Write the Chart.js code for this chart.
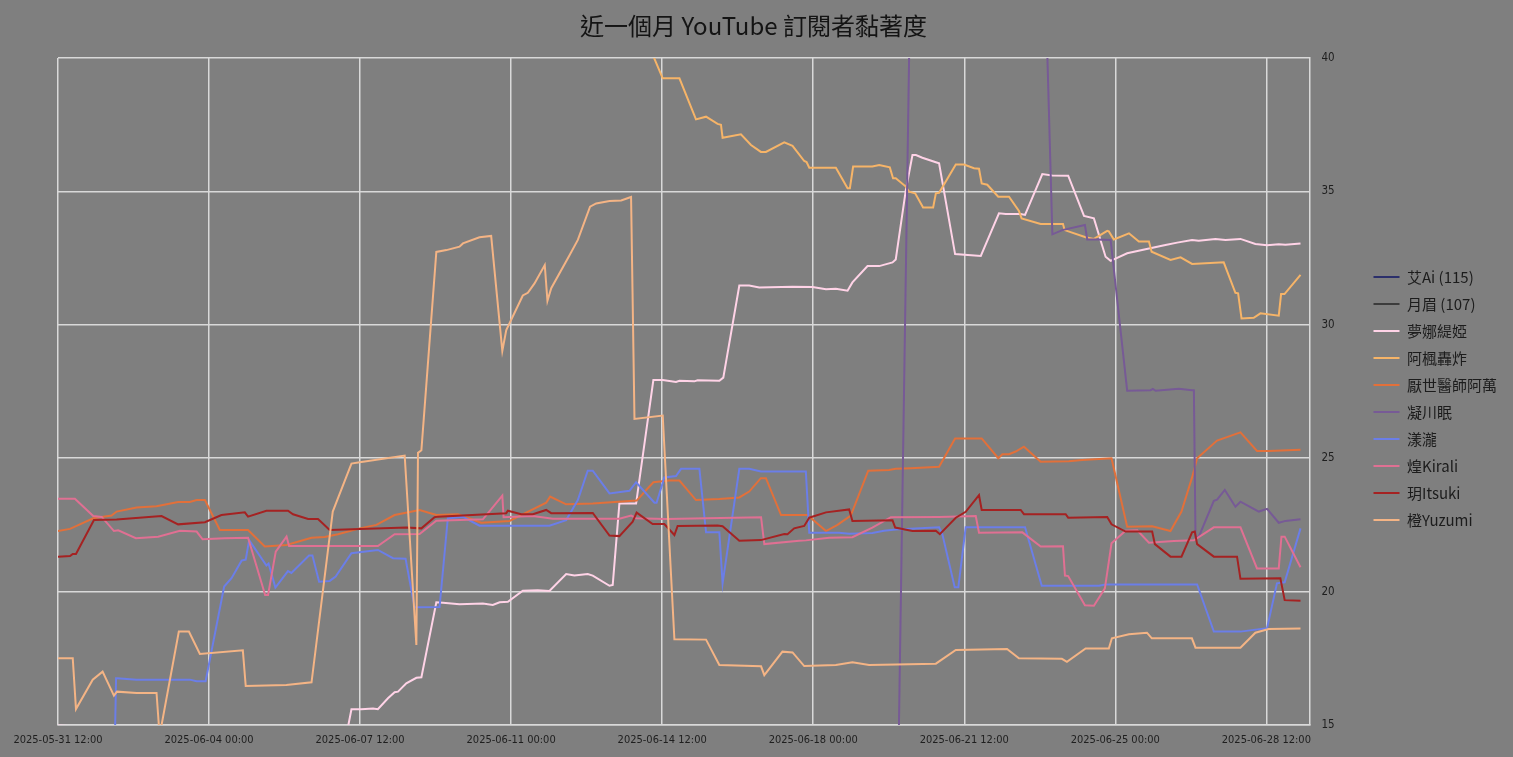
<!DOCTYPE html>
<html><head><meta charset="utf-8">
<script src="https://cdn.jsdelivr.net/npm/chart.js@4/dist/chart.umd.min.js"></script>
<style>
html,body{margin:0;padding:0;background:#7f7f7f;overflow:hidden;width:1513px;height:757px;}
#wrap{width:1513px;height:757px;}
canvas{display:block;}
</style></head><body>
<div id="wrap"><canvas id="c" width="1513" height="757"></canvas></div>
<script>
// x values are hours after 2025-05-31 12:00
const xTickHours = [0, 84, 168, 252, 336, 420, 504, 588, 672];
const xTickLabels = ['2025-05-31 12:00','2025-06-04 00:00','2025-06-07 12:00','2025-06-11 00:00','2025-06-14 12:00','2025-06-18 00:00','2025-06-21 12:00','2025-06-25 00:00','2025-06-28 12:00'];
const seriesNames = ['艾Ai (115)','月眉 (107)','夢娜緹婭','阿楓轟炸','厭世醫師阿萬','凝川眠','漾瀧','煌Kirali','玥Itsuki','橙Yuzumi'];
const seriesColors = ['#2b2f6b','#3c3c3c','#ffd3e7','#f6b468','#e2703a','#775a96','#6b7ee8','#e07093','#a52222','#f4b485'];

const aiHours = [0, 691];
const aiValues = [115, 115];
const yuemeiHours = [0, 691];
const yuemeiValues = [107, 107];

const mengnaHours = [0,10,12,158,163.2,168.7,175.2,177.9,183.5,187.2,189.1,193.7,199.3,202.1,210.4,214.1,223.3,236.3,241.8,245.6,250.2,258.5,266.8,273.3,282.6,287.2,294.6,297.4,306.7,308.5,312.2,321.5,331.1,336.3,343.7,345.6,353.9,355.7,367.8,370,378.9,384.4,390,408.5,419.6,427.1,432.6,439.1,441.8,450.2,456.7,464.1,465.9,471.5,475.2,477.1,480.7,488.2,490,498.9,513.2,523.3,527.1,535.4,537.8,547.4,552.9,561.8,570.6,576.1,582.6,585.4,587.2,594.6,604.8,615.9,622.4,630.7,634.4,643.7,649.3,657.6,665.9,672.4,678.9,682.6,691];
const mengnaValues = [14.98,14.95,13.8,13.8,15.59,15.59,15.62,15.59,16.0,16.23,16.25,16.56,16.77,16.79,19.6,19.58,19.53,19.55,19.5,19.6,19.62,20.03,20.05,20.02,20.66,20.6,20.66,20.6,20.22,20.25,23.3,23.3,27.93,27.93,27.86,27.9,27.88,27.92,27.9,28.02,31.47,31.47,31.4,31.43,31.42,31.33,31.35,31.28,31.59,32.2,32.2,32.34,32.45,35.05,36.36,36.36,36.26,36.09,36.05,32.65,32.58,34.18,34.15,34.15,34.12,35.65,35.6,35.59,34.08,33.99,32.55,32.4,32.45,32.68,32.83,32.99,33.08,33.18,33.15,33.22,33.18,33.22,33.03,32.98,33.02,33.0,33.05];

const afengHours = [0,320,329,336.3,345.6,354.8,360.4,366.8,368.7,369.6,379.8,385.4,390.9,393.7,403.9,408.5,415,416.3,417.8,432.6,439.1,440.4,442.2,452.9,456.7,462.6,464.4,465.9,471.5,473.3,476.7,481.1,486.7,488.2,490,499.3,503.9,509.4,512.2,513.7,516.8,522.9,528.9,534.4,535.9,546.5,558.9,559.8,571.5,576.1,583.5,584.4,587.2,595.6,601.1,606.7,608.2,618.7,624.3,630.7,648.3,654.8,656.3,658.2,665,668.7,678.9,680.2,682.1,691];
const afengValues = [43,42,40.4,39.24,39.24,37.7,37.8,37.53,37.5,37.01,37.14,36.74,36.48,36.48,36.84,36.71,36.14,36.1,35.89,35.89,35.12,35.12,35.93,35.93,35.99,35.9,35.49,35.49,35.18,34.99,34.93,34.4,34.4,34.93,34.95,36.01,36.01,35.87,35.85,35.3,35.25,34.8,34.8,34.27,33.99,33.78,33.78,33.55,33.28,33.22,33.52,33.5,33.2,33.43,33.12,33.12,32.74,32.43,32.53,32.28,32.34,31.2,31.18,30.24,30.26,30.43,30.34,31.15,31.15,31.87];

const awanHours = [0,6.7,19.6,29.8,32.6,43.7,54.8,66.8,73.3,77.1,81.7,90,105.7,115,127.1,141,148.3,155.7,167.8,177.1,187.2,201.1,210.4,222.4,235.4,251.1,271.5,273.7,282.6,297.4,321.8,331.1,340,345.6,354.8,367.8,378.9,384.4,390.9,393.7,402.1,416.8,427.1,433.5,440.9,450.6,462.2,465.9,474.3,490,498.9,513.7,522.9,525.2,528.9,532.6,537.2,546.5,562.2,569.6,585.9,594.6,608.5,618.7,624.8,630.7,633.5,644.6,657.6,666.8,673.3,691];
const awanValues = [22.27,22.35,22.75,22.85,23.0,23.15,23.2,23.36,23.36,23.43,23.43,22.31,22.31,21.69,21.75,22.02,22.05,22.15,22.37,22.5,22.87,23.06,22.87,22.9,22.58,22.65,23.33,23.56,23.27,23.3,23.41,24.1,24.16,24.16,23.43,23.47,23.53,23.75,24.25,24.25,22.87,22.87,22.27,22.5,22.85,24.53,24.56,24.6,24.62,24.68,25.74,25.74,25.0,25.15,25.15,25.25,25.43,24.87,24.89,24.93,25.0,22.43,22.45,22.27,23.0,24.28,25.0,25.66,25.97,25.27,25.27,25.32];

const ningchuanHours = [0,467,474,510,549.5,553,558.5,571.1,572.4,577.9,585.4,594.6,607.6,608.9,610.4,623.3,630.7,631.7,632.6,634.4,642.8,644.6,648.9,654.8,657.6,667.8,672.4,678.9,682.6,691];
const ningchuanValues = [11,12,43,46,41.8,33.39,33.55,33.74,33.2,33.2,33.18,27.53,27.55,27.6,27.53,27.6,27.55,27.55,22.06,22.05,23.4,23.45,23.81,23.18,23.37,23.0,23.1,22.58,22.65,22.71];

const yanglongHours = [0,31.5,32.3,32.9,43.7,73.3,77.1,82.1,92.4,96.5,102.1,104.4,106.3,115.9,117.1,120.9,127.9,129.8,139.6,141.5,145.2,151.1,154.4,163.2,177.9,186.3,193.3,198.3,212.2,216.8,225.2,234.4,273.3,282.6,289.1,294.6,297.4,306.7,317.8,321.5,331.7,332.9,337.2,343.7,346.5,356.7,360.4,367.8,369.6,378.9,384.4,390.9,415.9,417.8,434.4,440,452.9,459.4,465.9,490,491.8,498.7,500.7,504.8,537.8,547.1,578.9,582.6,633.5,642.8,657.6,672.4,677.9,682.2,691];
const yanglongValues = [14.0,14.0,16.75,16.75,16.7,16.7,16.64,16.64,20.19,20.5,21.16,21.2,21.93,20.98,21.05,20.15,20.77,20.7,21.35,21.35,20.37,20.4,20.56,21.44,21.56,21.25,21.23,19.41,19.42,22.75,22.8,22.47,22.47,22.68,23.43,24.53,24.53,23.68,23.78,24.1,23.33,23.33,24.28,24.33,24.6,24.6,22.22,22.22,20.31,24.6,24.6,24.5,24.5,22.21,22.21,22.17,22.2,22.28,22.33,22.41,22.16,20.16,20.16,22.41,22.41,20.22,20.22,20.27,20.27,18.5,18.5,18.63,20.31,20.35,22.37];

const kiraliHours = [0,9.4,19.6,24.3,31.1,33.5,43.3,55.7,67.8,77.1,80.4,92.8,105.7,115.2,116.8,121.1,127.1,128.5,154.8,177.9,187.2,201.1,210.4,236.3,247.1,247.8,264.1,275.2,312.2,318.7,321.5,338.2,391,392.8,412.2,415.9,428.9,441.8,452.9,463.2,490,510.4,512.2,536.3,546.5,558.9,560,561.8,571.1,576.1,582.2,585.9,593.7,600.2,606.7,620.6,631.7,642.8,657.6,666.8,678.9,680.4,682.2,691];
const kiraliValues = [23.48,23.48,22.83,22.8,22.27,22.3,22.0,22.06,22.28,22.25,21.96,22.0,22.02,19.87,19.87,21.5,22.06,21.71,21.71,21.71,22.15,22.16,22.66,22.71,23.6,22.79,22.83,22.73,22.73,22.85,22.75,22.72,22.79,21.78,21.91,21.92,22.02,22.04,22.4,22.79,22.8,22.83,22.21,22.22,21.69,21.7,20.6,20.58,19.49,19.47,20.12,21.81,22.28,22.3,21.83,21.9,21.92,22.41,22.41,20.87,20.87,22.06,22.06,20.91];

const itsukiHours = [0,6.7,8.2,10,20,32.6,57.6,66.8,81.7,90.9,103.9,105.7,115.9,127.9,130.7,139.1,144.6,151.1,193.7,202.1,209.4,211.3,249.3,250.2,257.6,264.1,271.5,274.3,297.4,306.7,312.2,319.6,321.8,330.7,337.2,342.8,344.6,366.8,369.6,378.9,390.9,403.9,405.7,409.4,415,417.8,427.1,440,441.8,464.1,465.6,475.2,488.2,490.4,499.3,504.8,512.2,513.7,535.4,537.2,560.4,561.8,583.5,585.9,593.7,608.5,610,618.7,624.8,630.7,632.2,633.5,642.8,655.7,657.6,679.8,682.2,691];
const itsukiValues = [21.31,21.33,21.41,21.41,22.68,22.7,22.83,22.52,22.6,22.87,22.97,22.81,23.03,23.03,22.9,22.72,22.72,22.31,22.4,22.37,22.79,22.81,22.94,23.03,22.9,22.9,23.06,22.94,22.95,22.1,22.08,22.62,22.96,22.53,22.53,22.12,22.46,22.48,22.45,21.91,21.93,22.16,22.15,22.37,22.46,22.77,22.97,23.08,22.65,22.67,22.4,22.27,22.28,22.15,22.77,22.99,23.62,23.06,23.06,22.9,22.9,22.77,22.8,22.52,22.25,22.25,21.78,21.31,21.31,22.22,22.25,21.78,21.31,21.31,20.48,20.5,19.68,19.66];

const yuzumiHours = [0,8.2,10,19.3,24.8,31.1,32.8,43.7,54.8,56.5,67.2,72.8,78.9,102.8,104.4,127,141,152.8,163.2,167.8,192.8,199.3,200.2,202.1,210.4,216,223.3,225.2,234.4,240.9,247.1,249.3,258.5,261.3,265,270.7,272.2,274.3,284.4,289.1,295.9,299.3,306.7,313.2,318.7,320.6,336.3,342.8,360.4,367.8,391,392.8,402.9,408.5,415,432.6,441.8,451.1,488.2,499.3,527.8,534.4,558.3,561.1,571.5,584.4,586.1,595.6,605.6,608.3,630.6,632.6,657.6,665.9,673.3,691];
const yuzumiValues = [17.5,17.5,15.6,16.7,17.0,16.1,16.25,16.2,16.2,14.6,18.5,18.5,17.66,17.8,16.46,16.5,16.6,23.0,24.8,24.85,25.1,18.0,25.2,25.3,32.73,32.8,32.93,33.05,33.28,33.33,29.02,29.8,31.1,31.2,31.55,32.24,30.9,31.37,32.6,33.18,34.43,34.55,34.64,34.66,34.79,26.47,26.6,18.21,18.2,17.25,17.2,16.87,17.75,17.72,17.21,17.25,17.35,17.25,17.3,17.81,17.85,17.5,17.48,17.37,17.87,17.87,18.25,18.4,18.46,18.25,18.25,17.9,17.9,18.46,18.6,18.62];

const seriesHours = [aiHours, yuemeiHours, mengnaHours, afengHours, awanHours, ningchuanHours, yanglongHours, kiraliHours, itsukiHours, yuzumiHours];
const seriesValues = [aiValues, yuemeiValues, mengnaValues, afengValues, awanValues, ningchuanValues, yanglongValues, kiraliValues, itsukiValues, yuzumiValues];

const narrowFamily = "'Liberation Sans Narrow','DejaVu Sans Condensed',sans-serif";
const xTickFont = {family: narrowFamily, size: 11};
const yTickFont = {family: narrowFamily, size: 11.5};
const cjkFont = "'Noto Sans CJK TC','Noto Sans CJK SC',sans-serif";
const gridColor = '#d9d9d9';

const datasets = seriesNames.map((name, i) => ({
  label: name,
  data: seriesHours[i].map((h, k) => ({x: h, y: seriesValues[i][k]})),
  borderColor: seriesColors[i],
  backgroundColor: seriesColors[i],
  borderWidth: 2,
  pointRadius: 0,
  pointHoverRadius: 0,
  tension: 0,
  fill: false,
  order: -i
}));

new Chart(document.getElementById('c'), {
  type: 'line',
  data: {datasets},
  options: {
    responsive: false,
    animation: false,
    devicePixelRatio: 1,
    events: [],
    layout: {padding: {left: 0, right: 6, top: 0, bottom: 0}},
    plugins: {
      title: {
        display: true,
        text: '近一個月 YouTube 訂閱者黏著度',
        color: '#141414',
        font: {family: cjkFont, size: 24, weight: 'normal'},
        padding: {top: 11, bottom: 18.2}
      },
      legend: {
        position: 'right',
        align: 'center',
        fullSize: false,
        title: {display: true, text: '', font: {size: 10, lineHeight: 1}, padding: {top: 4, bottom: 0}},
        labels: {
          usePointStyle: true,
          pointStyle: 'line',
          pointStyleWidth: 26,
          color: '#1c1c1c',
          font: {family: cjkFont, size: 15},
          padding: 12,
          sort: (a, b) => a.datasetIndex - b.datasetIndex
        }
      },
      tooltip: {enabled: false}
    },
    scales: {
      x: {
        type: 'linear',
        min: 0,
        max: 696,
        afterBuildTicks: axis => { axis.ticks = xTickHours.map(v => ({value: v})); },
        afterFit: s => { s.height = 32; },
        ticks: {
          autoSkip: false,
          maxRotation: 0,
          minRotation: 0,
          padding: 9,
          color: '#1e1e1e',
          font: xTickFont,
          callback: v => xTickLabels[xTickHours.indexOf(v)]
        },
        grid: {color: gridColor, lineWidth: 1.5, drawTicks: false},
        border: {color: gridColor, width: 1.5}
      },
      y: {
        position: 'right',
        min: 15,
        max: 40,
        afterFit: s => { s.width = 52; },
        ticks: {stepSize: 5, padding: 12, color: '#1e1e1e', font: yTickFont},
        grid: {color: gridColor, lineWidth: 1.5, drawTicks: false},
        border: {color: gridColor, width: 1.5}
      },
      yLeftSpace: {
        position: 'left',
        min: 15,
        max: 40,
        afterFit: s => { s.width = 58; },
        ticks: {display: false},
        grid: {display: false, drawTicks: false},
        border: {display: false}
      }
    }
  }
});
</script>
</body></html>
